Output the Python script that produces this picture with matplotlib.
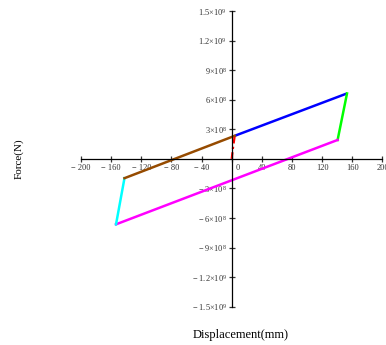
import matplotlib.pyplot as plt
import matplotlib.transforms as mtransforms

plt.rcParams["font.family"] = ["Liberation Serif", "DejaVu Serif"]
plt.rcParams["mathtext.fontset"] = "custom"
plt.rcParams["mathtext.rm"] = "Liberation Serif"
plt.rcParams["mathtext.it"] = "Liberation Serif:italic"

# hysteresis loop segments (displacement mm, force N)
init_x = [0, 1.5, 4]
init_y = [0, 1.0e8, 2.34e8]
blue_x = [4, 153]
blue_y = [2.34e8, 6.64e8]
green_x = [153, 140.5]
green_y = [6.64e8, 1.92e8]
magenta_x = [140.5, -153.5]
magenta_y = [1.92e8, -6.64e8]
cyan_x = [-153.5, -142.3]
cyan_y = [-6.64e8, -1.96e8]
brown_x = [-142.3, 4]
brown_y = [-1.96e8, 2.34e8]

xticks = [-200, -160, -120, -80, -40, 0, 40, 80, 120, 160, 200]
yticks = [-1.5e9, -1.2e9, -9e8, -6e8, -3e8, 3e8, 6e8, 9e8, 1.2e9, 1.5e9]
ylabels = ["$-\\ 1.5{\\times}10^9$", "$-\\ 1.2{\\times}10^9$", "$-\\ 9{\\times}10^8$",
           "$-\\ 6{\\times}10^8$", "$-\\ 3{\\times}10^8$", "$3{\\times}10^8$",
           "$6{\\times}10^8$", "$9{\\times}10^8$", "$1.2{\\times}10^9$", "$1.5{\\times}10^9$"]

fig = plt.figure(figsize=(3.86, 3.45), dpi=100)
ax = fig.add_axes([0.2098, 0.111, 0.781, 0.857])

lw = 1.8
ax.plot(blue_x, blue_y, color="#0000ff", lw=lw, solid_capstyle="butt")
ax.plot(green_x, green_y, color="#00ff00", lw=lw)
ax.plot(magenta_x, magenta_y, color="#ff00ff", lw=lw)
ax.plot(cyan_x, cyan_y, color="#00ffff", lw=lw)
ax.plot(brown_x, brown_y, color="#964b00", lw=lw)
ax.plot(init_x, init_y, color="red", lw=1.6, linestyle=(0, (3, 1.5, 1, 1.5)))

ax.set_xlim(-200, 200)
ax.set_ylim(-1.5e9, 1.5e9)
ax.spines["left"].set_position("zero")
ax.spines["bottom"].set_position("zero")
ax.spines["top"].set_visible(False)
ax.spines["right"].set_visible(False)
for s in ("left", "bottom"):
    ax.spines[s].set_linewidth(0.9)

ax.set_xticks(xticks)
ax.set_xticklabels([("\u2212 %d" % -v) if v < 0 else "%d" % v for v in xticks])
ax.set_yticks(yticks)
ax.set_yticklabels(ylabels)
ax.tick_params(direction="inout", length=5, width=0.9, labelsize=6, pad=1, colors="#333333")

# shift the "0" label off the vertical axis
zero_lbl = ax.get_xticklabels()[xticks.index(0)]
zero_lbl.set_transform(zero_lbl.get_transform() +
                       mtransforms.ScaledTranslation(4 / 72, 0, fig.dpi_scale_trans))

fig.text(0.05, 0.539, "Force(N)", rotation=90, ha="center", va="center", fontsize=8)
fig.text(0.624, 0.029, "Displacement(mm)", ha="center", va="center", fontsize=9)

fig.savefig("out.png", dpi=100)
